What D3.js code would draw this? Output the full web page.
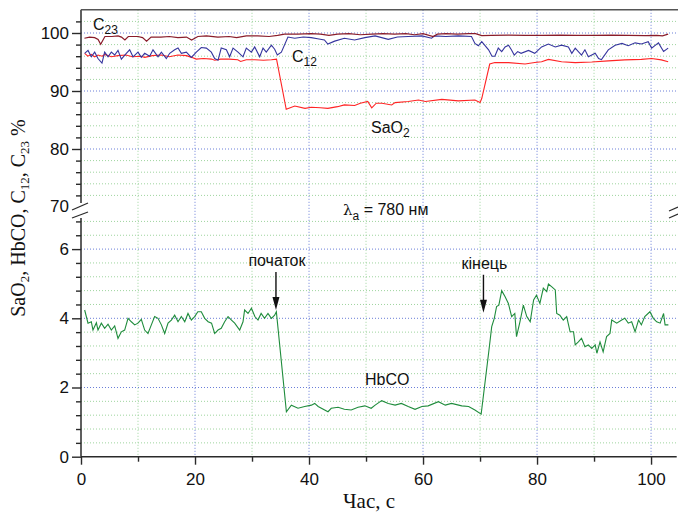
<!DOCTYPE html>
<html>
<head>
<meta charset="UTF-8">
<title>SaO2, HbCO, C12, C23</title>
<script src="https://d3js.org/d3.v7.min.js"></script>
<style>
    body { margin: 0; background: #ffffff; }
    svg text { font-family: "Liberation Sans", Arial, sans-serif; fill: #111; }
    .serif { font-family: "Liberation Serif", "Times New Roman", serif; }
</style>
</head>
<body>
<svg id="chart" width="678" height="515"></svg>
<script>
    // series: [time s, value]
    var c23 = [[0.6,99.1],[1.5,99.3],[2.4,99.2],[3.0,98.9],[3.45,98.05],[4.2,99.4],[5.4,99.4],[6.5,99.5],[7.1,99.3],[7.7,98.8],[8.3,99.4],[10,99.4],[10.8,99.2],[11.5,98.6],[12.3,99.3],[14,99.3],[15.5,99.4],[17,99.2],[18.5,99.3],[19.4,98.8],[20.5,99.4],[22,99.5],[24,99.3],[26,99.4],[27.3,99.2],[29,99.5],[31,99.5],[33,99.4],[34.5,99.6],[35.7,99.8],[38,99.8],[40.4,99.9],[42,99.8],[43.5,99.6],[45,99.8],[47,99.9],[49,99.7],[51,99.8],[53,99.9],[55,99.8],[57,99.9],[58.5,99.7],[60,99.9],[61.8,99.4],[62.5,99.8],[64,99.9],[66,99.8],[68,99.9],[69.2,99.9],[70.3,99.55],[72,99.6],[75,99.65],[78,99.6],[81,99.6],[84,99.65],[87,99.6],[90,99.6],[93,99.65],[96,99.6],[99,99.55],[101,99.6],[102,99.5],[103,99.8]];

    var c12 = [[0.64,96.5],[1.23,97.0],[1.81,95.9],[2.4,96.7],[2.98,95.6],[3.68,94.8],[4.15,96.7],[4.74,95.9],[5.32,96.7],[5.91,96.2],[6.49,97.0],[7.08,95.5],[7.95,96.5],[8.54,97.1],[9.12,95.9],[10.0,96.7],[10.58,95.8],[11.17,96.5],[12.05,96.0],[12.63,97.1],[13.51,95.9],[14.1,96.7],[14.97,95.6],[15.56,96.5],[16.43,97.1],[17.02,97.4],[17.6,96.5],[18.48,96.7],[19.36,95.8],[20.23,96.7],[21.1,97.5],[21.99,97.4],[22.86,96.7],[23.45,95.6],[24.04,95.3],[24.6,97.4],[25.5,97.1],[26.08,95.9],[26.67,97.4],[27.54,96.7],[28.42,95.9],[29.0,97.4],[29.88,96.7],[30.47,97.6],[31.35,95.9],[31.93,97.4],[32.5,96.7],[33.4,97.9],[33.97,97.2],[34.44,96.2],[35.15,96.7],[36.3,99.3],[37.5,99.1],[39,99.3],[40.4,99.2],[41.5,99.0],[42.7,98.8],[43.3,98.1],[44.5,98.6],[46.2,99.1],[48,98.8],[49.8,99.2],[51.6,99.5],[53.9,98.9],[55.5,99.3],[57.4,99.4],[59.8,99.5],[61.5,99.1],[62,99.5],[64,99.4],[66.2,99.5],[68.5,99.4],[69.1,98.2],[69.7,97.8],[70.3,98.5],[71.5,97.1],[72.1,96.0],[72.6,96.0],[73.2,97.4],[73.8,96.8],[74.4,97.6],[75.0,97.9],[75.5,97.1],[76.0,96.2],[76.6,96.8],[77.2,96.5],[78.5,97.0],[79.6,96.5],[80.8,97.6],[82.0,98.1],[83.2,97.6],[84.3,97.9],[85.5,97.6],[86.1,96.5],[86.7,97.4],[87.8,96.2],[88.4,97.1],[89.0,95.9],[90.2,96.5],[90.8,95.6],[91.3,95.4],[92.5,97.1],[93.7,97.9],[94.9,98.2],[96.0,97.8],[97.2,98.3],[98.3,98.1],[99.5,98.5],[100.1,97.4],[101.3,98.3],[102.2,96.8],[103.0,97.4]];

    var sao2 = [[0.64,96.5],[1.2,96.0],[1.8,96.3],[2.4,95.9],[3.0,96.2],[3.7,96.0],[4.2,96.3],[5.3,95.9],[6.5,96.1],[7.9,96.2],[9.0,95.9],[10.5,96.0],[11.2,95.8],[12.5,96.1],[14.1,96.2],[15.5,95.9],[17.0,96.2],[18.5,96.1],[19.4,95.8],[20.2,95.5],[21.5,95.6],[22.9,95.5],[23.45,95.3],[24.5,95.5],[26.0,95.5],[27.5,95.4],[28.0,95.1],[29.0,95.4],[30.5,95.4],[32.0,95.3],[33.4,95.4],[34.3,95.5],[36.0,86.84],[37.5,87.4],[39.3,87.0],[40.4,87.2],[42.0,87.1],[43.3,87.0],[45.0,87.3],[46.2,87.6],[48.0,87.5],[49.0,87.9],[50.3,88.2],[51.0,87.1],[51.8,87.9],[52.8,87.9],[54.5,87.6],[55.1,88.0],[57.4,88.2],[59.2,88.45],[60.4,88.2],[63.3,88.56],[66.2,88.3],[69.1,88.45],[70.0,88.0],[70.3,88.7],[71.7,94.65],[72.6,94.9],[75.0,94.9],[77.9,94.65],[79.6,94.9],[80.8,95.05],[82.0,95.45],[84.3,95.05],[86.7,94.9],[89.6,95.0],[92.5,95.2],[95.4,95.36],[98.3,95.45],[100.1,95.6],[101.8,95.36],[103.0,95.05]];

    var hbco = [[0.64,4.24],[1.23,3.86],[1.81,3.90],[2.1,3.66],[2.7,3.87],[2.98,3.66],[3.57,3.86],[4.15,3.71],[4.74,3.83],[5.32,3.66],[5.91,3.78],[6.49,3.42],[7.08,3.61],[7.66,3.66],[8.25,4.0],[8.83,3.90],[9.42,3.81],[10.0,3.86],[10.58,3.97],[11.17,3.66],[11.75,3.56],[12.34,3.81],[12.92,4.05],[13.51,4.0],[14.1,3.81],[14.68,3.56],[15.27,3.86],[15.85,3.95],[16.43,4.09],[17.02,3.90],[17.6,4.05],[18.2,3.90],[18.77,4.14],[19.36,3.95],[19.94,4.05],[20.5,4.19],[21.1,4.19],[21.7,4.0],[22.3,3.90],[22.9,3.86],[23.45,3.56],[24.04,3.66],[24.6,3.71],[25.2,3.90],[25.8,4.05],[26.4,3.95],[26.96,3.86],[27.84,3.66],[28.42,3.90],[28.7,4.24],[29.3,4.14],[29.9,4.29],[30.5,4.05],[31.05,3.95],[31.6,4.14],[32.2,4.0],[32.8,4.14],[33.4,4.0],[33.97,4.09],[34.27,4.19],[36.03,1.30],[36.9,1.49],[38.07,1.40],[39.24,1.45],[40.41,1.49],[41.0,1.54],[41.6,1.45],[43.33,1.30],[43.9,1.40],[45.1,1.43],[46.2,1.37],[47.4,1.35],[48.6,1.43],[49.8,1.47],[50.9,1.40],[51.6,1.49],[52.75,1.62],[53.9,1.54],[55.1,1.49],[56.2,1.54],[57.4,1.45],[58.6,1.37],[59.8,1.45],[60.9,1.47],[62.7,1.59],[63.9,1.49],[65.0,1.54],[66.8,1.47],[68.0,1.45],[69.1,1.35],[70.2,1.23],[71.5,2.99],[72.05,3.76],[72.5,4.0],[72.9,4.34],[73.3,4.38],[73.8,4.80],[74.4,4.62],[74.97,4.43],[75.55,4.05],[76.1,4.14],[76.4,3.47],[77.0,3.90],[77.6,4.38],[78.2,4.05],[78.8,3.90],[79.4,4.53],[79.9,4.67],[80.5,4.43],[81.1,4.87],[81.7,4.77],[82.0,4.99],[82.6,4.91],[83.2,4.82],[83.45,4.14],[84.0,4.09],[84.6,3.95],[85.2,4.05],[85.8,3.61],[86.4,3.61],[86.7,3.23],[87.25,3.32],[87.8,3.42],[88.4,3.18],[89.0,3.23],[89.6,3.13],[90.2,3.23],[90.5,2.99],[91.05,3.32],[91.6,3.03],[92.2,3.47],[92.8,3.56],[93.1,3.95],[93.98,3.86],[94.85,3.95],[95.4,4.0],[96.0,3.86],[96.6,3.90],[97.2,3.61],[97.8,3.95],[98.3,3.81],[98.9,4.05],[99.8,4.19],[100.4,4.0],[100.99,3.90],[101.6,3.86],[102.2,4.14],[102.46,3.81],[103.04,3.81]];

    // ticks
    var xMajor = [0, 20, 40, 60, 80, 100];
    var xMinor = [10, 30, 50, 70, 90];
    var topMajor = [70, 80, 90, 100];
    var topMinor = [72, 74, 76, 78, 82, 84, 86, 88, 92, 94, 96, 98, 102];
    var botMajor = [0, 2, 4, 6];
    var botMinor = [0.4, 0.8, 1.2, 1.6, 2.4, 2.8, 3.2, 3.6, 4.4, 4.8, 5.2, 5.6, 6.4, 6.8];

    // arrows: time, value at tip
    var arrowT = [34.2, 70.6];
    var arrowV = [4.24, 4.16];
    var arrowText = ["початок", "кінець"];

    var blue = "#6a7ed8", green = "#9ed49e", axisCol = "#2a2a2a";
    var fmt = d3.format("d");

    var svg = d3.select("#chart");
    var x = d3.scaleLinear().domain([0, 104.5]).range([81, 676.7]);
    var yTop = d3.scaleLinear().domain([70, 104]).range([207, 9.8]);
    var yBot = d3.scaleLinear().domain([0, 7]).range([456.7, 214.5]);

    // grid
    var grid = svg.append("g");
    function vgrid(vals, col) {
        grid.selectAll(null).data(vals).enter().append("line")
            .attr("x1", d => x(d)).attr("x2", d => x(d))
            .attr("y1", yTop(104)).attr("y2", yBot(0))
            .attr("stroke", col).attr("stroke-dasharray", "1,2");
    }
    function hgrid(vals, scale, col) {
        grid.selectAll(null).data(vals).enter().append("line")
            .attr("x1", x(0)).attr("x2", x(104.5))
            .attr("y1", d => scale(d)).attr("y2", d => scale(d))
            .attr("stroke", col).attr("stroke-dasharray", "1,2");
    }
    vgrid(xMinor, green);
    vgrid(xMajor.slice(1), blue);
    hgrid(topMinor, yTop, green);
    hgrid([80, 90, 100], yTop, blue);
    hgrid(botMinor, yBot, green);
    hgrid([2, 4, 6], yBot, blue);

    // series
    var lineTop = d3.line().x(d => x(d[0])).y(d => yTop(d[1]));
    var lineBot = d3.line().x(d => x(d[0])).y(d => yBot(d[1]));
    svg.append("path").datum(sao2).attr("d", lineTop).attr("fill", "none").attr("stroke", "#ff2424").attr("stroke-width", 1.1);
    svg.append("path").datum(c12).attr("d", lineTop).attr("fill", "none").attr("stroke", "#35359e").attr("stroke-width", 1.1);
    svg.append("path").datum(c23).attr("d", lineTop).attr("fill", "none").attr("stroke", "#8a1c2a").attr("stroke-width", 1.2);
    svg.append("path").datum(hbco).attr("d", lineBot).attr("fill", "none").attr("stroke", "#1f8c3c").attr("stroke-width", 1.1);

    // axes
    function styleAxis(g) {
        g.select(".domain").remove();
        g.selectAll("line").attr("stroke", axisCol).attr("stroke-width", 1.4);
        g.selectAll("text").attr("font-size", 17).attr("font-family", "Liberation Sans, Arial, sans-serif").attr("fill", "#111");
    }
    svg.append("g").attr("transform", "translate(81,0)")
        .call(d3.axisLeft(yTop).tickValues(topMajor.slice(1)).tickSize(9).tickPadding(3).tickFormat(fmt)).call(styleAxis);
    svg.append("g").attr("transform", "translate(81,0)")
        .call(d3.axisLeft(yTop).tickValues(topMinor).tickSize(5).tickFormat("")).call(styleAxis);
    svg.append("g").attr("transform", "translate(81,0)")
        .call(d3.axisLeft(yBot).tickValues(botMajor).tickSize(9).tickPadding(3).tickFormat(fmt)).call(styleAxis);
    svg.append("g").attr("transform", "translate(81,0)")
        .call(d3.axisLeft(yBot).tickValues(botMinor).tickSize(5).tickFormat("")).call(styleAxis);
    svg.append("g").attr("transform", "translate(0," + yBot(0) + ")")
        .call(d3.axisBottom(x).tickValues(xMajor).tickSize(8).tickPadding(8).tickFormat(fmt)).call(styleAxis);
    svg.append("g").attr("transform", "translate(0," + yBot(0) + ")")
        .call(d3.axisBottom(x).tickValues(xMinor).tickSize(5).tickFormat("")).call(styleAxis);

    // "70" label sits at the break, no tick
    svg.append("text").attr("x", 69).attr("y", yTop(topMajor[0])).attr("dy", "0.32em")
        .attr("text-anchor", "end").attr("font-size", 17).text(topMajor[0]);

    // axis lines
    var ax = svg.append("g").attr("stroke", axisCol).attr("stroke-width", 1.5);
    ax.append("line").attr("x1", x(0)).attr("x2", x(0)).attr("y1", yTop(104)).attr("y2", yTop(70) - 4);
    ax.append("line").attr("x1", x(0)).attr("x2", x(0)).attr("y1", yBot(7) + 3.5).attr("y2", yBot(0));
    ax.append("line").attr("x1", x(0)).attr("x2", x(104.5)).attr("y1", yBot(0)).attr("y2", yBot(0));
    ax.append("line").attr("x1", x(0)).attr("x2", 678).attr("y1", yTop(104)).attr("y2", yTop(104)).attr("stroke", "#555");
    // break marks
    ax.append("line").attr("x1", 72).attr("y1", 210).attr("x2", 88).attr("y2", 203).attr("stroke-width", 1.3);
    ax.append("line").attr("x1", 72).attr("y1", 218).attr("x2", 88).attr("y2", 212).attr("stroke-width", 1.3);
    ax.append("line").attr("x1", 669).attr("y1", 211).attr("x2", 678).attr("y2", 207).attr("stroke-width", 1.3);
    ax.append("line").attr("x1", 669).attr("y1", 218).attr("x2", 678).attr("y2", 214).attr("stroke-width", 1.3);

    // arrows
    arrowT.forEach(function (t, i) {
        var ax0 = x(t), tip = yBot(arrowV[i]);
        svg.append("line").attr("x1", ax0).attr("x2", ax0).attr("y1", tip - 38).attr("y2", tip - 10)
            .attr("stroke", "#111").attr("stroke-width", 1.4);
        svg.append("path").attr("d", "M" + (ax0 - 3.5) + "," + (tip - 13) + "L" + (ax0 + 3.5) + "," + (tip - 13) + "L" + ax0 + "," + tip + "Z")
            .attr("fill", "#111");
        svg.append("text").attr("x", ax0 + 1).attr("y", tip - 44).attr("text-anchor", "middle")
            .attr("font-size", 16).text(arrowText[i]);
    });

    // series labels
    function subLabel(px, py, main, sub, rest) {
        var t = svg.append("text").attr("x", px).attr("y", py).attr("font-size", 16);
        t.append("tspan").text(main);
        t.append("tspan").attr("dy", 4).attr("font-size", 12).text(sub);
        if (rest) t.append("tspan").attr("dy", -4).text(rest);
        return t;
    }
    subLabel(93, 30, "C", "23");
    subLabel(292, 61.5, "C", "12");
    subLabel(371, 133, "SaO", "2");
    var lam = svg.append("text").attr("x", 343).attr("y", 215).attr("font-size", 16);
    lam.append("tspan").attr("font-family", "DejaVu Serif, serif").attr("font-size", 15).text("λ");
    lam.append("tspan").attr("dy", 5).attr("font-size", 12).text("a");
    lam.append("tspan").attr("dy", -5).text(" = 780 нм");
    svg.append("text").attr("x", 365).attr("y", 385).attr("font-size", 16).text("HbCO");

    // axis titles
    svg.append("text").attr("class", "serif").attr("x", 369).attr("y", 508)
        .attr("text-anchor", "middle").attr("font-size", 21).text("Час, с");
    var yl = svg.append("text").attr("class", "serif").attr("transform", "translate(25,218) rotate(-90)")
        .attr("text-anchor", "middle").attr("font-size", 20);
    yl.append("tspan").text("SaO");
    yl.append("tspan").attr("dy", 4).attr("font-size", 13).text("2");
    yl.append("tspan").attr("dy", -4).text(", HbCO, C");
    yl.append("tspan").attr("dy", 4).attr("font-size", 13).text("12");
    yl.append("tspan").attr("dy", -4).text(", C");
    yl.append("tspan").attr("dy", 4).attr("font-size", 13).text("23");
    yl.append("tspan").attr("dy", -4).text("\u00a0%");
</script>
</body>
</html>
